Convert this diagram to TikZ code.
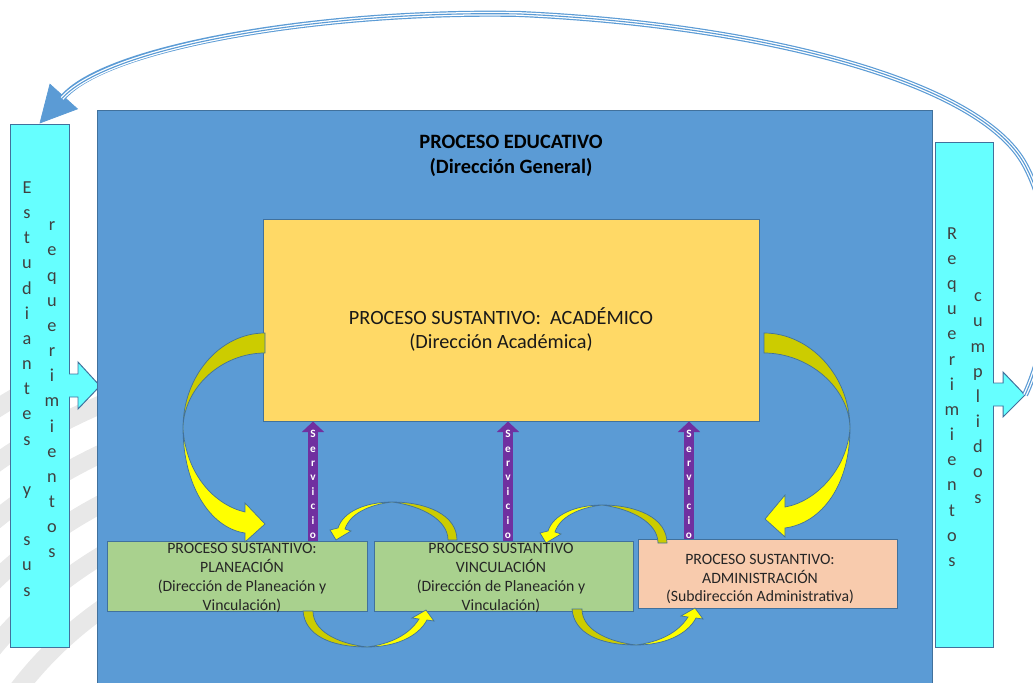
\documentclass[tikz,border=0pt]{standalone}
\usepackage{fontspec}
\setmainfont{Carlito}
\usetikzlibrary{arrows.meta,calc}
\definecolor{educblue}{HTML}{5B9BD5}
\definecolor{edgeblue}{HTML}{41719C}
\definecolor{acadyellow}{HTML}{FFD966}
\definecolor{procgreen}{HTML}{A9D18E}
\definecolor{procpeach}{HTML}{F8CBAD}
\definecolor{reqcyan}{HTML}{66FFFF}
\definecolor{servpurple}{HTML}{7030A0}
\definecolor{ribbonolive}{HTML}{CCCC00}
\definecolor{ribbonyellow}{HTML}{FFFF00}
\definecolor{lettergray}{HTML}{404040}
\definecolor{bandgray}{HTML}{E8E8E8}
\newcommand{\pxu}{0.025cm}

\begin{document}
\begin{tikzpicture}[x=0.025cm, y=-0.025cm,
    box/.style={draw=edgeblue, line width=0.7pt, inner sep=0pt},
    ribbonback/.style={draw=edgeblue, line width=0.5pt, fill=ribbonolive},
    ribbonfront/.style={draw=edgeblue, line width=0.5pt, fill=ribbonyellow},
    servarrow/.style={draw=servpurple, line width=7.8pt, -{Triangle[length=7.5pt, width=15.5pt]}},
    servtxt/.style={text=white, font=\bfseries\fontsize{8}{10.2}\selectfont, align=center, inner sep=0pt},
    proctxt/.style={text=black!85, font=\fontsize{11.2}{13.4}\selectfont, align=center, inner sep=0pt},
    lettercol/.style={text=lettergray, font=\fontsize{13}{17.9}\selectfont, align=center, inner sep=0pt},
    toploop/.pic={
        \filldraw[ribbonback] (457,540) .. controls (457,515) and (427,502) .. (392,502) .. controls (422,506) and (448,520) .. (448,540) -- cycle;
        \filldraw[ribbonfront] (392,502) .. controls (365,502) and (343,512) .. (338,528) -- (330,530) -- (336,540) -- (351,531) -- (345,529) .. controls (350,514) and (368,505) .. (392,502) -- cycle;
    },
    bottomloop/.pic={
        \filldraw[ribbonback] (303,611) .. controls (305,635) and (330,647) .. (367,647) .. controls (335,643) and (313,630) .. (313,611) -- cycle;
        \filldraw[ribbonfront] (367,647) .. controls (395,647) and (418,637) .. (427,620) -- (434,621) -- (426,610) -- (412,618) -- (419,619) .. controls (409,635) and (390,644) .. (367,647) -- cycle;
    }]
    \useasboundingbox (0,0) rectangle (1033,683);

    % faint background bands
    \begin{scope}
        \clip (0,385) rectangle (97,683);
        \foreach \r in {380,425,470,515,560,605,650}
            \draw[bandgray, line width=13pt] (320,920) circle (\r);
    \end{scope}

    % side boxes
    \node[box, fill=reqcyan, minimum width=59*\pxu, minimum height=523*\pxu] (est) at (39.5,385.5) {};
    \fill[reqcyan] (67,374) -- (78,374) -- (78,362) -- (100,386) -- (78,409) -- (78,397) -- (67,397) -- cycle;
    \draw[edgeblue, line width=0.7pt] (69,374) -- (78,374) -- (78,362) -- (100,386) -- (78,409) -- (78,397) -- (69,397);

    \node[box, fill=reqcyan, minimum width=58*\pxu, minimum height=505*\pxu] (req) at (964,394.5) {};
    \fill[reqcyan] (991,383) -- (1003,383) -- (1003,372) -- (1025,395) -- (1003,417) -- (1003,406) -- (991,406) -- cycle;
    \draw[edgeblue, line width=0.7pt] (993,383) -- (1003,383) -- (1003,372) -- (1025,395) -- (1003,417) -- (1003,406) -- (993,406);
    \coordinate (req-tip) at (1025,395);

    \node[lettercol] (est-a) at (27,389) {E\\s\\t\\u\\d\\i\\a\\n\\t\\e\\s\\~\\y\\~\\s\\u\\s};
    \node[lettercol] (est-b) at (52,390) {r\\e\\q\\u\\e\\r\\i\\m\\i\\e\\n\\t\\o\\s};
    \node[lettercol] (req-a) at (952,397) {R\\e\\q\\u\\e\\r\\i\\m\\i\\e\\n\\t\\o\\s};
    \node[lettercol] (req-b) at (978,398) {c\\u\\m\\p\\l\\i\\d\\o\\s};

    % feedback loop
    \def\loopcurve{(req-tip) .. controls (1055,330) and (1060,230) .. (1025,165) .. controls (980,81) and (760,25) .. (520,14) .. controls (330,10) and (110,45) .. (est.north)}
    \draw[educblue, line width=4.3pt, -{Triangle[length=26pt, width=27pt, line width=0.5pt]}] \loopcurve;
    \draw[white, line width=2.6pt, shorten >=24pt] \loopcurve;
    \draw[educblue, line width=0.8pt, shorten >=24pt] \loopcurve;

    % main process
    \node[box, fill=educblue, minimum width=835*\pxu, minimum height=590*\pxu] (educ) at (514.5,405) {};
    \node[font=\bfseries\fontsize{14.5}{17.8}\selectfont, align=center] (educ-title) at (511,155.5) {PROCESO EDUCATIVO\\(Dirección General)};

    \node[box, fill=acadyellow, minimum width=496*\pxu, minimum height=202*\pxu] (acad) at (511,320) {};
    \node[font=\fontsize{14.4}{17}\selectfont, align=center, text=black!90] (acad-txt) at (501,329) {PROCESO SUSTANTIVO:\ \ ACADÉMICO\\(Dirección Académica)};

    \node[box, fill=procgreen, minimum width=260*\pxu, minimum height=70*\pxu] (plan) at (237,576) {};
    \node[box, fill=procgreen, minimum width=259*\pxu, minimum height=70*\pxu] (vinc) at (503.5,576) {};
    \node[box, fill=procpeach, minimum width=259*\pxu, minimum height=69*\pxu] (admin) at (767.5,573.5) {};

    % ribbons
    \filldraw[ribbonback] (265,333) .. controls (220,333) and (183,376) .. (183,428) .. controls (184,387) and (222,353) .. (265,353) -- cycle;
    \filldraw[ribbonfront] (183,428) .. controls (183,485) and (210,528) .. (245,533) -- (245,542) -- (265,524) -- (245,503) -- (245,512) .. controls (215,505) and (186,475) .. (183,428) -- cycle;
    \filldraw[ribbonback] (764,333) .. controls (810,333) and (850,376) .. (850,428) .. controls (849,387) and (808,353) .. (764,353) -- cycle;
    \filldraw[ribbonfront] (850,428) .. controls (850,485) and (822,523) .. (785,528) -- (785,537) -- (765,519) -- (785,495) -- (785,507) .. controls (815,502) and (847,470) .. (850,428) -- cycle;

    \pic at (0,0) {toploop};
    \pic at (210,3) {toploop};
    \pic at (0,0) {bottomloop};
    \pic at (269,-2) {bottomloop};

    \node[proctxt] (plan-txt) at (242,578) {PROCESO SUSTANTIVO:\\PLANEACIÓN\\(Dirección de Planeación y\\Vinculación)};
    \node[proctxt] (vinc-txt) at (501,578) {PROCESO SUSTANTIVO\\VINCULACIÓN\\(Dirección de Planeación y\\Vinculación)};
    \node[proctxt] (admin-txt) at (760,579) {PROCESO SUSTANTIVO:\\ADMINISTRACIÓN\\(Subdirección Administrativa)};

    % servicio
    \coordinate (serv1) at ($(plan.north)+(76,0)$);
    \coordinate (serv2) at ($(vinc.north)+(4.5,0)$);
    \coordinate (serv3) at ($(admin.north)+(-78.5,0)$);
    \draw[servarrow] (serv1) -- (serv1 |- acad.south);
    \draw[servarrow] (serv2) -- (serv2 |- acad.south);
    \draw[servarrow] (serv3) -- (serv3 |- acad.south);
    \node[servtxt] (serv1-txt) at ($(serv1)+(0,-56)$) {S\\e\\r\\v\\i\\c\\i\\o};
    \node[servtxt] (serv2-txt) at ($(serv2)+(0,-56)$) {S\\e\\r\\v\\i\\c\\i\\o};
    \node[servtxt] (serv3-txt) at ($(serv3)+(0,-54)$) {S\\e\\r\\v\\i\\c\\i\\o};

\end{tikzpicture}
\end{document}
